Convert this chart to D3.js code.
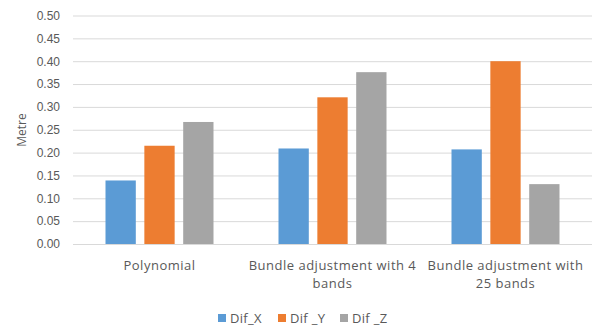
<!DOCTYPE html>
<html>
<head>
<meta charset="utf-8">
<script src="https://cdn.jsdelivr.net/npm/d3@7"></script>
<style>
  html, body { margin: 0; padding: 0; background: #fff; }
  svg { display: block; font-family: "Open Sans", "Noto Sans", sans-serif; }
</style>
</head>
<body>
<svg id="chart" width="594" height="328"></svg>
<script>
// Chart data
const categories = ["Polynomial", "Bundle adjustment with 4 bands", "Bundle adjustment with 25 bands"];
const seriesNames = ["Dif_X", "Dif _Y", "Dif _Z"];
const difX = [0.139, 0.209, 0.207];
const difY = [0.215, 0.321, 0.400];
const difZ = [0.267, 0.376, 0.131];
const yTicks = [0, 0.05, 0.10, 0.15, 0.20, 0.25, 0.30, 0.35, 0.40, 0.45, 0.50];
const colors = ["#5B9BD5", "#ED7D31", "#A5A5A5"];

const seriesValues = [difX, difY, difZ];
const rows = categories.map((c, i) => ({
  cat: c,
  vals: seriesNames.map((s, j) => ({ key: s, value: seriesValues[j][i], idx: j }))
}));

const svg = d3.select("#chart");
const margin = { left: 73, right: 2, top: 15.5, bottom: 84 };
const W = 594, H = 328;
const plotW = W - margin.left - margin.right;
const plotH = H - margin.top - margin.bottom;
const textColor = "#595959";

const g = svg.append("g").attr("transform", `translate(${margin.left},${margin.top})`);

const x0 = d3.scaleBand().domain(categories).range([0, plotW]).paddingInner(0).paddingOuter(0);
const groupW = 108;
const x1 = d3.scaleBand().domain(seriesNames).range([(x0.bandwidth() - groupW) / 2, (x0.bandwidth() + groupW) / 2]).paddingInner(0.22);
const y = d3.scaleLinear().domain([0, 0.5]).range([plotH, 0]);

// Gridlines and value labels on the left
const yAxis = d3.axisLeft(y).tickValues(yTicks).tickFormat(d3.format(".2f")).tickSize(-plotW).tickPadding(13);
const ya = g.append("g").call(yAxis);
ya.select(".domain").remove();
ya.selectAll(".tick line").attr("stroke", "#D9D9D9").attr("stroke-width", 1);
ya.selectAll(".tick text").attr("fill", textColor).style("font-size", "12px");

// Bars
const groups = g.selectAll(".grp").data(rows).join("g")
  .attr("class", "grp")
  .attr("transform", d => `translate(${x0(d.cat)},0)`);
groups.selectAll("rect").data(d => d.vals).join("rect")
  .attr("x", d => x1(d.key))
  .attr("y", d => y(d.value))
  .attr("width", x1.bandwidth())
  .attr("height", d => y(0) - y(d.value))
  .attr("fill", d => colors[d.idx]);

// Category labels, wrapped to the band width
const xa = g.append("g").attr("transform", `translate(0,${plotH})`);
rows.forEach(r => {
  const cx = x0(r.cat) + x0.bandwidth() / 2;
  const t = xa.append("text")
    .attr("x", cx)
    .attr("y", 26)
    .attr("text-anchor", "middle")
    .attr("fill", textColor)
    .style("font-size", "13px")
    .style("letter-spacing", "0.5px");
  const words = r.cat.split(" ");
  let line = [];
  let ts = t.append("tspan").attr("x", cx).attr("dy", 0);
  words.forEach(w => {
    line.push(w);
    ts.text(line.join(" "));
    if (ts.node().getComputedTextLength() > 170 && line.length > 1) {
      line.pop();
      ts.text(line.join(" "));
      line = [w];
      ts = t.append("tspan").attr("x", cx).attr("dy", 18).text(w);
    }
  });
});

// Y axis title
svg.append("text")
  .attr("transform", `translate(26,130) rotate(-90)`)
  .attr("text-anchor", "middle")
  .attr("fill", textColor)
  .style("font-size", "12px")
  .text("Metre");

// Legend
const legendX = [218, 278, 340];
const legend = svg.append("g").attr("transform", "translate(0,318)");
seriesNames.forEach((s, i) => {
  legend.append("rect").attr("x", legendX[i]).attr("y", -4).attr("width", 8).attr("height", 8).attr("fill", colors[i]);
  legend.append("text").attr("x", legendX[i] + 12).attr("y", 5)
    .attr("fill", textColor).style("font-size", "13px").style("letter-spacing", "0.3px").text(s);
});
</script>
</body>
</html>
